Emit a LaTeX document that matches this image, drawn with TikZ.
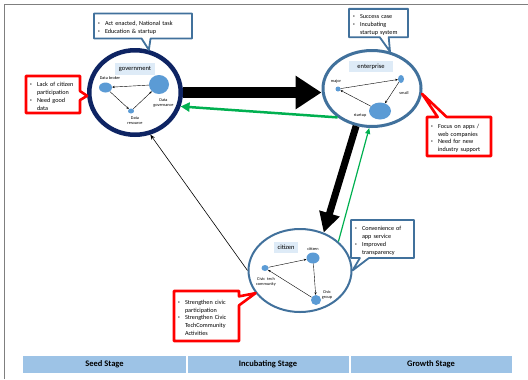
\documentclass[tikz,border=0pt]{standalone}
\usepackage{fontspec}
\setmainfont{Carlito}
\usetikzlibrary{arrows.meta,calc,positioning,shapes.geometric,shapes.callouts}

\newcommand{\itm}[1]{\par\hangindent=7bp\hangafter=1\noindent
  \makebox[7bp][l]{\raisebox{.3ex}{\fontsize{3.5}{4}\selectfont\textbullet}}#1\par}

\begin{document}
\begin{tikzpicture}[
    x=1bp, y=-1bp,
    line join=round,
    >=Latex,
    hub/.style={ellipse, draw, fill=white, inner sep=0pt},
    tag/.style={fill=tagblue, inner sep=0pt, font=\fontsize{6.5}{7}\selectfont},
    dot/.style={ellipse, fill=dotblue, inner sep=0pt},
    tiny/.style={font=\fontsize{4.3}{4.8}\selectfont, align=center, inner sep=0pt},
    link/.style={-{Stealth[length=2.6bp,width=2.2bp]}, line width=0.4bp},
    note/.style={
        rectangle callout, draw=steelblue, line width=1.8bp, fill=white,
        font=\fontsize{6.2}{7.8}\selectfont, align=left,
        inner xsep=4bp, inner ysep=2bp, callout pointer width=9bp
    },
    alert/.style={note, draw=alertred, line width=2.6bp},
    bigarrow/.style={-{Triangle[length=26bp,width=32bp]}, line width=11bp},
    stage/.style={fill=stageblue, draw=white, line width=1bp, minimum height=18bp,
        font=\fontsize{8.5}{10}\selectfont\bfseries}
]

% -------------------------------------------------
% Palette
% -------------------------------------------------
\definecolor{navyring}{HTML}{0E2463}   % government ring
\definecolor{steelblue}{HTML}{41719C}  % rings and notes
\definecolor{tagblue}{HTML}{DEEBF7}    % name tags
\definecolor{dotblue}{HTML}{5B9BD5}    % actors
\definecolor{alertred}{HTML}{FF0000}   % problem notes
\definecolor{flowgreen}{HTML}{00B050}  % feedback
\definecolor{stageblue}{HTML}{9DC3E6}  % stage bar
\definecolor{framegray}{HTML}{7F7F7F}

\useasboundingbox (0,0) rectangle (528,379);
\draw[framegray, line width=1bp] (4,379) -- (4,4) -- (528,4);

% -------------------------------------------------
% Government
% -------------------------------------------------
\node[hub, draw=navyring, line width=4.5bp, minimum width=91.5bp, minimum height=84.5bp]
    (gov) at (135,92.5) {};
\node[tag, minimum width=40bp, minimum height=12bp] (govtag) at (135,69) {government};

\node[dot, minimum width=13bp, minimum height=10bp] (broker) at (105.5,87.5) {};
\node[dot, minimum width=20bp, minimum height=19bp] (govern) at (159,84.5) {};
\node[dot, minimum width=6bp, minimum height=5bp] (resource) at (131,111) {};

\node[tiny] at (110,78) {Data broker};
\node[tiny] at (135,121) {Data\\resource};
\node[tiny] at (163.5,103) {Data\\governance};

\draw[link] (govern) -- (broker);
\draw[link] (broker) -- (resource);
\draw[link] (resource) -- (govern);

% -------------------------------------------------
% Enterprise
% -------------------------------------------------
\node[hub, draw=steelblue, line width=3bp, minimum width=98bp, minimum height=76bp]
    (ent) at (372,88.5) {};
\node[tag, minimum width=44bp, minimum height=11bp] (enttag) at (371,66.5) {enterprise};

\node[dot, minimum width=5bp, minimum height=5bp] (major) at (338,89) {};
\node[dot, minimum width=6bp, minimum height=8bp] (small) at (401,79) {};
\node[dot, minimum width=22bp, minimum height=17bp] (startup) at (380,111) {};

\node[tiny] at (336,81) {major};
\node[tiny] at (404,93) {small};
\node[tiny] at (360,115) {startup};

\draw[link] (major) -- (small);
\draw[link] (small) -- (startup);
\draw[link] (startup) -- (major);

% -------------------------------------------------
% Citizen
% -------------------------------------------------
\node[hub, draw=steelblue, line width=2bp, minimum width=103bp, minimum height=83bp]
    (cit) at (300,270.5) {};
\node[tag, minimum width=24bp, minimum height=11bp] (cittag) at (286,247.5) {citizen};

\node[dot, minimum width=13bp, minimum height=11bp] (citizens) at (313,258) {};
\node[dot, minimum width=7bp, minimum height=6bp] (civictech) at (265,268) {};
\node[dot, minimum width=10bp, minimum height=10bp] (civicgroup) at (316,300) {};

\node[tiny] at (313,249) {citizen};
\node[tiny] at (266,282) {Civic\ \ tech\\community};
\node[tiny] at (327,295) {Civic\\group};

\draw[link] (civictech) -- (citizens);
\draw[link] (citizens) -- (civicgroup);
\draw[link] (civicgroup) -- (civictech);

% -------------------------------------------------
% Flows between actors
% -------------------------------------------------
\draw[bigarrow] (gov.east) -- (gov.east -| ent.west);
\draw[bigarrow, line width=7bp, -{Triangle[length=20bp,width=20bp]}] (ent.-113) -- (cit.58);
\draw[flowgreen, line width=2.5bp, -{Triangle[length=9bp,width=9bp]}] (ent.-140) -- (gov.-17);
\draw[flowgreen, line width=1.2bp, -{Triangle[length=6bp,width=5bp]}] (cit.37) -- (ent.-94);
\draw[line width=0.6bp, -{Stealth[length=5bp,width=4bp]}] (cit.west) -- (gov.-70);

% -------------------------------------------------
% Notes
% -------------------------------------------------
\node[note, text width=90bp, minimum height=25bp, callout absolute pointer={(gov.72)}]
    (govnote) at (143,26)
    {\itm{Act enacted, National task}\itm{Education \& startup}};

\node[alert, text width=46bp, minimum height=37bp, callout absolute pointer={(gov.184)}]
    (govalert) at (53,94.5)
    {\itm{Lack of citizen\newline participation}\itm{Need good\newline data}};

\node[note, text width=51bp, minimum height=26bp, callout absolute pointer={(ent.64)}]
    (entnote) at (378.5,23)
    {\itm{Success case}\itm{Incubating\newline startup system}};

\node[alert, text width=56bp, minimum height=39bp, callout absolute pointer={(ent.-6)}]
    (entalert) at (459,136.5)
    {\itm{Focus on apps /\newline web companies}\itm{Need for new\newline industry support}};

\node[note, text width=55bp, minimum height=38bp, callout absolute pointer={(cit.east)}]
    (citnote) at (382.5,239)
    {\itm{Convenience of\newline app service}\itm{Improved\newline transparency}};

\node[alert, text width=57bp, minimum height=50bp, callout absolute pointer={(cit.207)}]
    (citalert) at (206.5,316)
    {\itm{Strengthen civic\newline participation}\itm{Strengthen Civic\newline TechCommunity\newline Activities}};

% -------------------------------------------------
% Stage bar
% -------------------------------------------------
\node[stage, minimum width=163bp] (seed) at (104.5,364) {Seed Stage};
\node[stage, minimum width=162bp, right=0pt of seed] (incub) {Incubating Stage};
\node[stage, minimum width=162bp, right=0pt of incub] (growth) {Growth Stage};

\end{tikzpicture}
\end{document}
